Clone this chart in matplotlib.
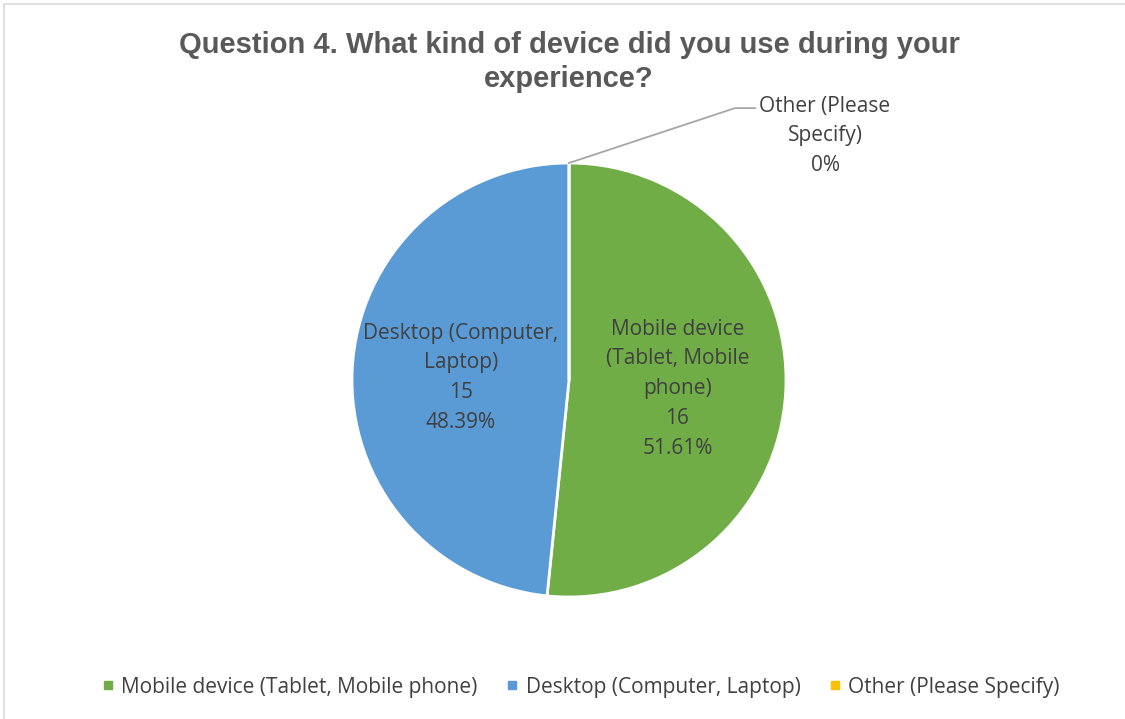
import matplotlib
matplotlib.use('Agg')
import matplotlib.pyplot as plt
from matplotlib.patches import Rectangle
import numpy as np

# survey answers
labels = ['Mobile device (Tablet, Mobile phone)', 'Desktop (Computer, Laptop)', 'Other (Please Specify)']
wedge_text = ['Mobile device\n(Tablet, Mobile\nphone)', 'Desktop (Computer,\nLaptop)', 'Other (Please\nSpecify)']
counts = [16, 15, 0]
colors = ['#70ad47', '#5b9bd5', '#ffc000']

W, H = 1125, 719
fig = plt.figure(figsize=(W / 100, H / 100), dpi=100)
fig.patch.set_facecolor('white')

# light frame around the chart area
fig.add_artist(Rectangle((4 / W, -0.05), 1.2, (H - 4) / H + 0.05, transform=fig.transFigure,
                         fill=False, edgecolor='#d9d9d9', linewidth=1.2))

cx, cy, r = 569, 380, 217
ax = fig.add_axes([(cx - r) / W, (H - cy - r) / H, 2 * r / W, 2 * r / H])
ax.set_aspect('equal')

wedges, _ = ax.pie(counts, colors=colors, startangle=90, counterclock=False, radius=1,
                   wedgeprops=dict(edgecolor='white', linewidth=2))
ax.set_xlim(-1, 1)
ax.set_ylim(-1, 1)
ax.axis('off')

total = sum(counts)
lab_font = dict(family=['Open Sans', 'DejaVu Sans'], fontsize=15, color='#404040')
for w, txt, n in zip(wedges[:2], wedge_text[:2], counts[:2]):
    mid = np.deg2rad((w.theta1 + w.theta2) / 2)
    ax.text(0.5 * np.cos(mid), 0.5 * np.sin(mid) - 0.015,
            '%s\n%d\n%.2f%%' % (txt, n, 100.0 * n / total),
            ha='center', va='center', linespacing=1.55, **lab_font)

# zero slice gets an outside label with a leader line
w = wedges[2]
a = np.deg2rad(w.theta1)
x0, y0 = np.cos(a), np.sin(a)
ax.plot([x0, 0.765, 0.857], [y0, 1.253, 1.253], color='#a6a6a6', lw=1.3, clip_on=False)
ax.text(1.18, 1.125, '%s\n%d%%' % (wedge_text[2], round(100.0 * counts[2] / total)),
        ha='center', va='center', linespacing=1.55, **lab_font)

fig.text(569 / W, 1 - 62 / H, 'Question 4. What kind of device did you use during your\nexperience?',
         ha='center', va='center', fontsize=21, fontweight='bold', color='#595959',
         family=['Liberation Sans', 'DejaVu Sans'], linespacing=1.3)

handles = [plt.Line2D([], [], marker='s', linestyle='', markersize=6, color=c) for c in colors]
fig.legend(handles, labels, loc='center', bbox_to_anchor=(577 / W, 1 - 687 / H), ncol=3,
           frameon=False, handletextpad=0.0, handlelength=1.3, columnspacing=1.0,
           prop=dict(family=['Open Sans', 'DejaVu Sans'], size=15), labelcolor='#404040')

fig.savefig('out.png', dpi=100)
